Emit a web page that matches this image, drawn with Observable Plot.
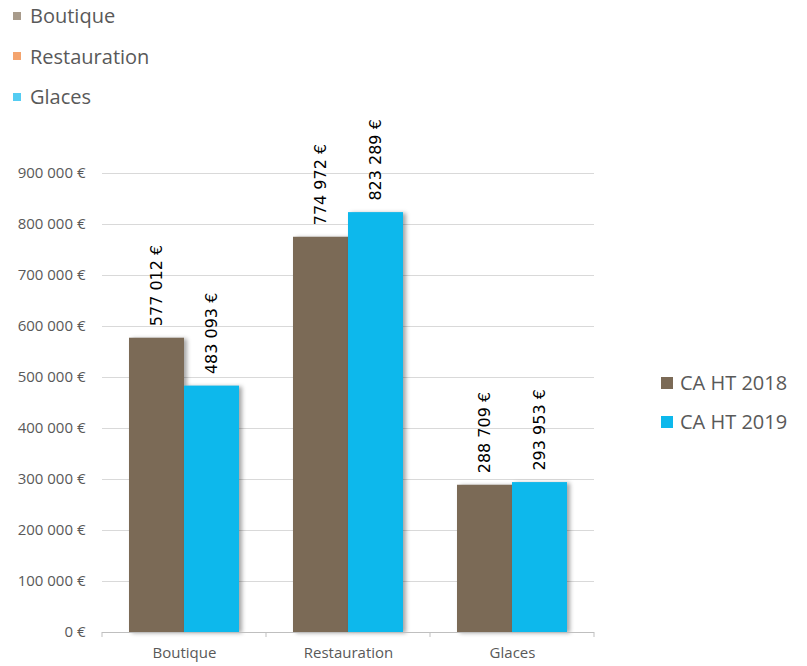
<!DOCTYPE html>
<html>
<head>
<meta charset="utf-8">
<script src="https://cdn.jsdelivr.net/npm/d3@7"></script>
<script src="https://cdn.jsdelivr.net/npm/@observablehq/plot@0.6"></script>
<style>
  html, body { margin: 0; padding: 0; background: #fff; }
  #wrap { position: relative; width: 807px; height: 666px; overflow: hidden; }
  #chart { position: absolute; left: 0; top: 0; }
  .legend { position: absolute; font-family: "Open Sans", sans-serif; color: #595959; font-size: 20px; }
  .legend .item { position: absolute; white-space: nowrap; display: flex; align-items: center; }
  .legend .sw { display: inline-block; }
  g[aria-label="bar"] rect { filter: drop-shadow(3px 1px 2px rgba(0,0,0,0.35)); }
</style>
</head>
<body>
<div id="wrap">
  <div id="chart"></div>
  <div id="topLegend" class="legend"></div>
  <div id="sideLegend" class="legend"></div>
</div>
<script>
const categories = ["Boutique", "Restauration", "Glaces"];
const series = ["CA HT 2018", "CA HT 2019"];
const values2018 = [577012, 774972, 288709];
const values2019 = [483093, 823289, 293953];
const yTicks = [0, 100000, 200000, 300000, 400000, 500000, 600000, 700000, 800000, 900000];
const seriesColors = ["#7B6A56", "#0DB8EC"];
const categoryLegendColors = ["#A89B8B", "#F4A46E", "#54CCF2"];

const data = [];
categories.forEach((c, i) => {
  data.push({cat: c, s: series[0], v: values2018[i]});
  data.push({cat: c, s: series[1], v: values2019[i]});
});

const loc = d3.formatLocale({decimal: ",", thousands: " ", grouping: [3], currency: ["", " €"]});
const fmt = loc.format("$,");

const plot = Plot.plot({
  width: 807,
  height: 666,
  marginLeft: 102,
  marginRight: 213,
  marginTop: 173,
  marginBottom: 34,
  style: {background: "transparent", fontFamily: "'Open Sans', sans-serif", overflow: "visible"},
  fx: {domain: categories, padding: 0, label: null, axis: null},
  x: {domain: series, paddingInner: 0, paddingOuter: 0.49, axis: null},
  y: {domain: [0, 900000], label: null},
  color: {domain: series, range: seriesColors},
  marks: [
    Plot.gridY(yTicks, {stroke: "#D9D9D9", strokeOpacity: 1, strokeWidth: 1}),
    Plot.axisY(yTicks, {tickSize: 0, tickPadding: 17, tickFormat: fmt, fontSize: 15, fill: "#595959", label: null}),
    Plot.axisFx({anchor: "bottom", tickSize: 0, tickPadding: 15, fontSize: 15, fill: "#595959", label: null}),
    Plot.barY(data, {fx: "cat", x: "s", y: "v", fill: "s"}),
    Plot.ruleY([0], {stroke: "#BFBFBF", strokeWidth: 1}),
    Plot.text(data, {fx: "cat", x: "s", y: "v", text: d => fmt(d.v), rotate: -90, textAnchor: "start", dy: -12, fontSize: 16, fill: "#000", fontFamily: "DejaVu Sans"})
  ]
});
document.getElementById("chart").appendChild(plot);

// boundary ticks on the category axis, from the library's scales
const fx = plot.scale("fx");
const ys = plot.scale("y");
const y0 = ys.apply(0);
const edges = categories.map(c => fx.apply(c)).concat([fx.apply(categories[categories.length - 1]) + fx.bandwidth]);
const svg = d3.select(plot);
svg.append("g").selectAll("line").data(edges).join("line")
  .attr("x1", d => d).attr("x2", d => d)
  .attr("y1", y0).attr("y2", y0 + 5)
  .attr("stroke", "#BFBFBF");

// top legend (categories)
const tl = document.getElementById("topLegend");
tl.style.left = "0px"; tl.style.top = "0px";
categories.forEach((c, i) => {
  const it = document.createElement("div");
  it.className = "item";
  it.style.left = "13px";
  it.style.top = (2 + i * 40.5) + "px";
  it.innerHTML = `<span class="sw" style="width:8px;height:8px;background:${categoryLegendColors[i]};margin-right:9px"></span><span>${c}</span>`;
  tl.appendChild(it);
});

// side legend (series)
const sl = document.getElementById("sideLegend");
sl.style.left = "0px"; sl.style.top = "0px";
series.forEach((s, i) => {
  const it = document.createElement("div");
  it.className = "item";
  it.style.left = "661px";
  it.style.top = (369 + i * 39) + "px";
  it.innerHTML = `<span class="sw" style="width:12px;height:12px;background:${seriesColors[i]};margin-right:7px"></span><span>${s}</span>`;
  sl.appendChild(it);
});
</script>
</body>
</html>
